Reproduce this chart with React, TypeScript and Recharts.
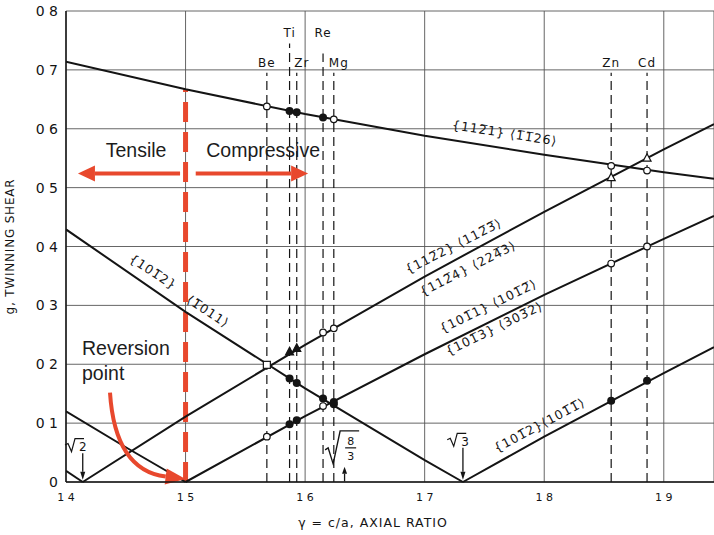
import React from 'react';
import {
  ComposedChart,
  Line,
  Scatter,
  XAxis,
  YAxis,
  CartesianGrid,
  ReferenceLine,
  ReferenceDot,
} from 'recharts';

const RED = '#e8482d';
const INK = '#141414';
const SANS = '"Liberation Sans", Arial, sans-serif';
const MONO = '"DejaVu Sans", sans-serif';

const xTicks = [1.4, 1.5, 1.6, 1.7, 1.8, 1.9];
const yTicks = [0, 0.1, 0.2, 0.3, 0.4, 0.5, 0.6, 0.7, 0.8];

// shear g against c/a, read at the grid lines, the cusps and the right edge
const shear1121 = [
  { x: 1.4, g: 0.714 }, { x: 1.5, g: 0.667 }, { x: 1.6, g: 0.625 }, { x: 1.7, g: 0.588 },
  { x: 1.8, g: 0.556 }, { x: 1.9, g: 0.526 }, { x: 1.942, g: 0.515 },
];
const shear1122Low = [{ x: 1.4, g: 0.019 }, { x: 1.414, g: 0 }];
const shear1122 = [
  { x: 1.414, g: 0 }, { x: 1.5, g: 0.111 }, { x: 1.6, g: 0.233 }, { x: 1.7, g: 0.349 },
  { x: 1.8, g: 0.459 }, { x: 1.9, g: 0.565 }, { x: 1.942, g: 0.608 },
];
const shear1011Low = [{ x: 1.4, g: 0.12 }, { x: 1.45, g: 0.059 }, { x: 1.5, g: 0 }];
const shear1011 = [
  { x: 1.5, g: 0 }, { x: 1.6, g: 0.112 }, { x: 1.7, g: 0.217 }, { x: 1.8, g: 0.318 },
  { x: 1.9, g: 0.413 }, { x: 1.942, g: 0.452 },
];
const shear1012Low = [
  { x: 1.4, g: 0.429 }, { x: 1.5, g: 0.289 }, { x: 1.6, g: 0.159 }, { x: 1.7, g: 0.037 },
  { x: 1.732, g: 0 },
];
const shear1012 = [{ x: 1.732, g: 0 }, { x: 1.8, g: 0.077 }, { x: 1.9, g: 0.185 }, { x: 1.942, g: 0.229 }];

// hcp metals and their axial ratios
const metals = ['Be', 'Ti', 'Zr', 'Re', 'Mg', 'Zn', 'Cd'];
const axialRatio = [1.568, 1.587, 1.593, 1.615, 1.624, 1.856, 1.886];

// measured points on each shear curve (null = shares the crossing marker)
const g1121 = [0.638, 0.63, 0.628, 0.619, 0.616, 0.537, 0.529];
const kind1121 = ['open', 'solid', 'solid', 'solid', 'open', 'open', 'open'];
const g1122 = [0.199, 0.221, 0.227, 0.254, 0.261, 0.517, 0.55];
const kind1122 = ['square', 'triSolid', 'triSolid', 'open', 'open', 'triOpen', 'triOpen'];
const g1012 = [null, 0.176, 0.168, 0.142, 0.132, 0.138, 0.172];
const kind1012 = ['solid', 'solid', 'solid', 'solid', 'solid', 'solid', 'solid'];
const g1011 = [0.077, 0.098, 0.105, 0.129, 0.136, 0.371, 0.4];
const kind1011 = ['open', 'solid', 'solid', 'open', 'solid', 'open', 'open'];

const points = (gs: (number | null)[], kinds: string[]) =>
  axialRatio
    .map((x, i) => ({ x, g: gs[i], kind: kinds[i] }))
    .filter((p) => p.g !== null);

const curves = [shear1121, shear1122Low, shear1122, shear1011Low, shear1011, shear1012Low, shear1012];
const markerSets = [
  points(g1121, kind1121),
  points(g1122, kind1122),
  points(g1012, kind1012),
  points(g1011, kind1011),
];

// twinning mode labels laid along the curves
const modeNotes = [
  { x: 1.767, g: 0.593, angle: 9, text: '{112\u03051} \u27E81\u03051\u030526\u27E9' },
  { x: 1.724, g: 0.401, angle: -27, text: '{112\u03052} \u27E8112\u03053\u0305\u27E9' },
  { x: 1.736, g: 0.363, angle: -27, text: '{112\u03054} \u27E8224\u03053\u27E9' },
  { x: 1.753, g: 0.299, angle: -26, text: '{101\u03051} \u27E8101\u03052\u0305\u27E9' },
  { x: 1.758, g: 0.261, angle: -26, text: '{101\u03053} \u27E8303\u03052\u27E9' },
  { x: 1.473, g: 0.357, angle: 33, text: '{101\u03052}' },
  { x: 1.519, g: 0.29, angle: 33, text: '\u27E81\u0305011\u27E9' },
  { x: 1.796, g: 0.097, angle: -28, text: '{101\u03052}\u27E8101\u03051\u0305\u27E9' },
];

const tickText = (v: number) => (v === 0 ? '0' : v.toFixed(1).replace('.', ' '));

function Marker(props: any) {
  const { cx, cy, payload } = props;
  const k = payload.kind;
  if (k === 'solid') return <circle cx={cx} cy={cy} r={4} fill={INK} />;
  if (k === 'open') return <circle cx={cx} cy={cy} r={3.3} fill="#fff" stroke={INK} strokeWidth={1.2} />;
  if (k === 'square')
    return <rect x={cx - 3.5} y={cy - 3.5} width={7} height={7} fill="#fff" stroke={INK} strokeWidth={1.2} />;
  const tri = `${cx},${cy - 4.5} ${cx + 4},${cy + 3} ${cx - 4},${cy + 3}`;
  return <polygon points={tri} fill={k === 'triSolid' ? INK : '#fff'} stroke={INK} strokeWidth={1.2} />;
}

// straight arrow; the head sits on the segment's second point
const arrow = (width: number, len: number, half: number) => (p: any) => {
  const { x1, y1, x2, y2, stroke } = p;
  const a = Math.atan2(y2 - y1, x2 - x1);
  const bx = x2 - len * Math.cos(a);
  const by = y2 - len * Math.sin(a);
  const nx = -Math.sin(a) * half;
  const ny = Math.cos(a) * half;
  return (
    <g>
      <line x1={x1} y1={y1} x2={bx} y2={by} stroke={stroke} strokeWidth={width} />
      <polygon points={`${x2},${y2} ${bx + nx},${by + ny} ${bx - nx},${by - ny}`} fill={stroke} />
    </g>
  );
};

// bent arrow from the "Reversion point" note down to the cusp
function curvedArrow(p: any) {
  const { x1, y1, x2, y2 } = p;
  const cx = x1 + 5;
  const cy = y2 - 9;
  const a = Math.atan2(y2 - cy, x2 - cx);
  const len = 20;
  const half = 8;
  const bx = x2 - len * Math.cos(a);
  const by = y2 - len * Math.sin(a);
  const nx = -Math.sin(a) * half;
  const ny = Math.cos(a) * half;
  return (
    <g>
      <path d={`M${x1},${y1} Q${cx},${cy} ${bx},${by}`} fill="none" stroke={RED} strokeWidth={4} />
      <polygon points={`${x2},${y2} ${bx + nx},${by + ny} ${bx - nx},${by - ny}`} fill={RED} />
    </g>
  );
}

function Radical({ cx, cy, n }: { cx: number; cy: number; n: string }) {
  return (
    <g>
      <path
        d={`M${cx - 9},${cy - 1} l3,-1.5 l3.5,8 l3.5,-13 h9`}
        fill="none"
        stroke={INK}
        strokeWidth={1.2}
      />
      <text x={cx + 5} y={cy + 5} fontSize={12} fontFamily={MONO} fill={INK}>
        {n}
      </text>
    </g>
  );
}

function RadicalFraction({ cx, cy }: { cx: number; cy: number }) {
  return (
    <g>
      <path
        d={`M${cx - 15},${cy + 2} l3,-2 l5,16 l7,-33 h19`}
        fill="none"
        stroke={INK}
        strokeWidth={1.4}
      />
      <line x1={cx + 5} y1={cy} x2={cx + 16} y2={cy} stroke={INK} strokeWidth={1.2} />
      <text x={cx + 10.5} y={cy - 3} fontSize={11} textAnchor="middle" fontFamily={MONO} fill={INK}>
        8
      </text>
      <text x={cx + 10.5} y={cy + 12} fontSize={11} textAnchor="middle" fontFamily={MONO} fill={INK}>
        3
      </text>
    </g>
  );
}

const note = (key: string, x: number, g: number, draw: (cx: number, cy: number) => React.ReactNode) => (
  <ReferenceDot
    key={key}
    x={x}
    y={g}
    r={1}
    ifOverflow="visible"
    shape={(p: any) => <g>{draw(p.cx, p.cy)}</g>}
  />
);

export default function App() {
  return (
    <div style={{ position: 'absolute', left: 0, top: 0, width: 714, height: 535, background: '#fff' }}>
      <ComposedChart width={714} height={535} margin={{ top: 11, right: 0, bottom: 23, left: 0 }}>
        <CartesianGrid stroke="#555" strokeWidth={0.9} />
        <XAxis
          type="number"
          dataKey="x"
          domain={[1.4, 1.942]}
          ticks={xTicks}
          allowDataOverflow
          height={30}
          axisLine={{ stroke: INK, strokeWidth: 1.5 }}
          tickLine={false}
          tick={({ x, y, payload }: any) => (
            <text x={x} y={y + 11} textAnchor="middle" fontSize={11} fontFamily={MONO} fill={INK}>
              {tickText(payload.value)}
            </text>
          )}
          label={{
            content: ({ viewBox }: any) => (
              <text
                x={viewBox.x + 307}
                y={viewBox.y + 45}
                textAnchor="middle"
                fontSize={12.5}
                letterSpacing={1}
                fontFamily={MONO}
                fill={INK}
              >
                {'\u03B3 = c/a, AXIAL RATIO'}
              </text>
            ),
          }}
        />
        <YAxis
          type="number"
          dataKey="g"
          domain={[0, 0.8]}
          ticks={yTicks}
          width={66}
          axisLine={{ stroke: INK, strokeWidth: 1.5 }}
          tickLine={false}
          tick={({ x, y, payload }: any) => (
            <text x={x} y={y + 5} textAnchor="end" fontSize={14} fontFamily={MONO} fill={INK}>
              {tickText(payload.value)}
            </text>
          )}
          label={{
            content: ({ viewBox }: any) => (
              <text
                x={viewBox.x + 14}
                y={viewBox.y + viewBox.height / 2}
                transform={`rotate(-90 ${viewBox.x + 14} ${viewBox.y + viewBox.height / 2})`}
                textAnchor="middle"
                fontSize={12}
                letterSpacing={0.8}
                fontFamily={MONO}
                fill={INK}
              >
                g, TWINNING SHEAR
              </text>
            ),
          }}
        />

        {/* metal axial ratios */}
        {metals.map((m, i) => {
          const raised = m === 'Ti' || m === 'Re';
          const top = m === 'Ti' ? 0.745 : m === 'Re' ? 0.728 : 0.695;
          return (
            <ReferenceLine
              key={`ref-${m}`}
              segment={[{ x: axialRatio[i], y: 0 }, { x: axialRatio[i], y: top }]}
              stroke={INK}
              strokeWidth={1.2}
              strokeDasharray="9 5"
              ifOverflow="visible"
            />
          );
        })}
        {metals.map((m, i) => {
          const raised = m === 'Ti' || m === 'Re';
          const dx = m === 'Zr' || m === 'Mg' ? 5 : 0;
          return note(`lab-${m}`, axialRatio[i], raised ? 0.755 : 0.705, (cx, cy) => (
            <text x={cx + dx} y={cy} textAnchor="middle" fontSize={12} letterSpacing={1} fontFamily={MONO} fill={INK}>
              {m}
            </text>
          ));
        })}

        {/* reversion line at c/a = 1.5 */}
        <ReferenceLine
          segment={[{ x: 1.5, y: 0 }, { x: 1.5, y: 0.667 }]}
          stroke={RED}
          strokeWidth={5}
          strokeDasharray="20 10"
        />

        {curves.map((d, i) => (
          <Line
            key={`curve-${i}`}
            data={d}
            dataKey="g"
            type="linear"
            stroke={INK}
            strokeWidth={2}
            dot={false}
            activeDot={false}
            isAnimationActive={false}
          />
        ))}
        {markerSets.map((d, i) => (
          <Scatter key={`pts-${i}`} data={d} dataKey="g" shape={Marker} isAnimationActive={false} />
        ))}

        {modeNotes.map((n, i) =>
          note(`mode-${i}`, n.x, n.g, (cx, cy) => (
            <text
              x={cx}
              y={cy}
              transform={`rotate(${n.angle} ${cx} ${cy})`}
              textAnchor="middle"
              dominantBaseline="central"
              fontSize={12.5}
              letterSpacing={1}
              fontFamily={MONO}
              fill={INK}
            >
              {n.text}
            </text>
          )),
        )}

        {/* tensile / compressive arrows */}
        <ReferenceLine
          segment={[{ x: 1.4954, y: 0.524 }, { x: 1.41, y: 0.524 }]}
          stroke={RED}
          shape={arrow(4, 17, 8)}
          ifOverflow="visible"
        />
        <ReferenceLine
          segment={[{ x: 1.5085, y: 0.524 }, { x: 1.6025, y: 0.524 }]}
          stroke={RED}
          shape={arrow(4, 17, 8)}
          ifOverflow="visible"
        />
        {note('tensile', 1.4586, 0.552, (cx, cy) => (
          <text x={cx} y={cy} textAnchor="middle" fontSize={19.5} fontFamily={SANS} fill="#1c1c1c">
            Tensile
          </text>
        ))}
        {note('compressive', 1.5649, 0.552, (cx, cy) => (
          <text x={cx} y={cy} textAnchor="middle" fontSize={19.5} fontFamily={SANS} fill="#1c1c1c">
            Compressive
          </text>
        ))}

        {/* reversion point note */}
        {note('reversion', 1.4134, 0.216, (cx, cy) => (
          <text x={cx} y={cy} fontSize={19.5} fontFamily={SANS} fill="#1c1c1c">
            <tspan x={cx}>Reversion</tspan>
            <tspan x={cx} dy={25}>
              point
            </tspan>
          </text>
        ))}
        <ReferenceLine
          segment={[{ x: 1.4368, y: 0.152 }, { x: 1.5, y: 0.005 }]}
          stroke={RED}
          shape={curvedArrow}
          ifOverflow="visible"
        />

        {/* special axial ratios */}
        <ReferenceLine
          segment={[{ x: 1.414, y: 0.049 }, { x: 1.414, y: 0.004 }]}
          stroke={INK}
          shape={arrow(1.3, 8, 2.5)}
        />
        <ReferenceLine
          segment={[{ x: 1.732, y: 0.058 }, { x: 1.732, y: 0.004 }]}
          stroke={INK}
          shape={arrow(1.3, 8, 2.5)}
        />
        <ReferenceLine
          segment={[{ x: 1.633, y: 0.001 }, { x: 1.633, y: 0.026 }]}
          stroke={INK}
          shape={arrow(1.3, 7, 2.5)}
        />
        {note('root2', 1.4067, 0.061, (cx, cy) => <Radical cx={cx} cy={cy} n="2" />)}
        {note('root3', 1.7264, 0.07, (cx, cy) => <Radical cx={cx} cy={cy} n="3" />)}
        {note('root83', 1.6293, 0.058, (cx, cy) => <RadicalFraction cx={cx} cy={cy} />)}
      </ComposedChart>
    </div>
  );
}
